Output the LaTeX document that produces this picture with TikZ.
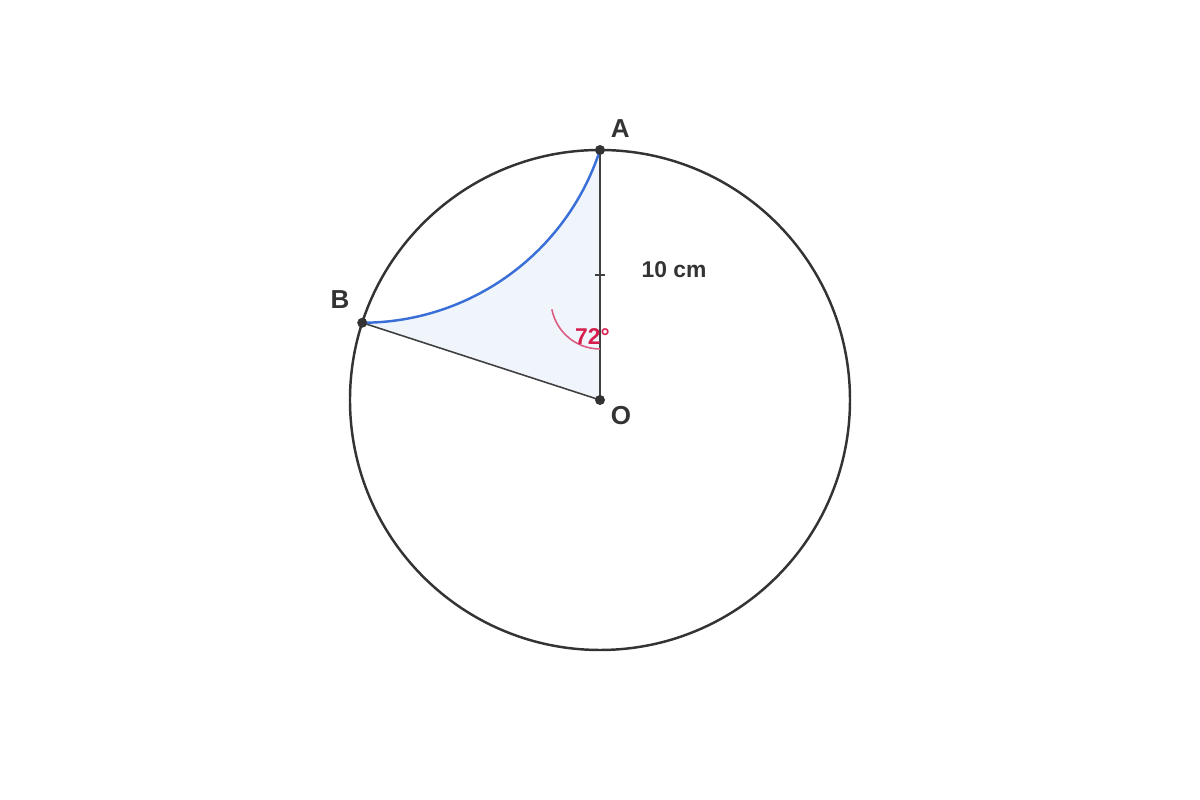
\documentclass[tikz,border=0pt]{standalone}
\usepackage{fontspec}
\setmainfont{Liberation Sans}
\begin{document}
\begin{tikzpicture}[
  ptlabel/.style={font=\bfseries\fontsize{7.4pt}{9pt}\selectfont, text=black!80},
  dimlabel/.style={font=\bfseries\fontsize{6.5pt}{8pt}\selectfont, text=black!80},
  dot/.style={circle, fill=black!80, inner sep=0pt, minimum size=0.1cm},
]
\definecolor{bluearc}{HTML}{3A6FD8}
\definecolor{regionfill}{HTML}{F0F5FC}
\definecolor{redtext}{HTML}{D61F4E}
\definecolor{redarc}{HTML}{DC5C80}
\useasboundingbox (-6,-4) rectangle (6,4);
\coordinate (O) at (0,0);
\coordinate (A) at (90:2.5);
\coordinate (B) at (162:2.5);
% shaded region
\fill[regionfill] (O) -- (B) arc[start angle=-90, end angle=-18, radius=2.5] -- cycle;
% circle
\draw[black!80, line width=0.7pt] (O) circle[radius=2.5];
% radii
\draw[black!75, line width=0.45pt] (O) -- (A);
\draw[black!75, line width=0.45pt] (O) -- (B);
% tick mark
\coordinate (M) at (0,1.25);
\draw[black!75, line width=0.45pt] ([xshift=-0.05cm]M) -- ([xshift=0.05cm]M);
% blue arc
\draw[bluearc, line width=0.7pt] (B) arc[start angle=-90, end angle=-18, radius=2.5];
% angle arc
\draw[redarc, line width=0.45pt] (0,1.0) ++(191:0.49) arc[start angle=191, end angle=270, radius=0.49];
% points
\node[dot] (pO) at (O) {};
\node[dot] (pA) at (A) {};
\node[dot] (pB) at (B) {};
% labels
\node[ptlabel] (lA) at (0.203,2.717) {A};
\node[ptlabel] (lB) at (-2.6,1.0) {B};
\node[ptlabel] (lO) at (0.21,-0.16) {O};
\node[dimlabel] (len) at (0.74,1.305) {10 cm};
\node[dimlabel, text=redtext] (ang) at (-0.075,0.63) {72°};
\end{tikzpicture}
\end{document}
